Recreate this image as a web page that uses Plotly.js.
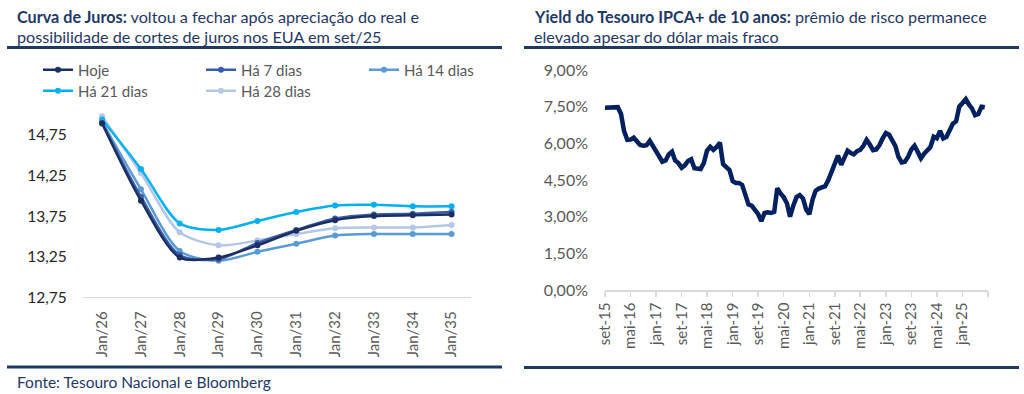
<!DOCTYPE html>
<html>
<head>
<meta charset="utf-8">
<script src="https://cdn.plot.ly/plotly-3.0.1.min.js"></script>
<style>
  html, body { margin: 0; padding: 0; background: #ffffff; }
  #chart { width: 1024px; height: 394px; }
</style>
</head>
<body>
<div id="chart"></div>
<script>
// ---- Left chart: Curva de Juros ----
const categories = ['Jan/26','Jan/27','Jan/28','Jan/29','Jan/30','Jan/31','Jan/32','Jan/33','Jan/34','Jan/35'];
const hoje  = [14.89, 13.94, 13.24, 13.24, 13.39, 13.57, 13.70, 13.75, 13.76, 13.77];
const ha7   = [14.90, 13.99, 13.27, 13.22, 13.42, 13.58, 13.72, 13.77, 13.78, 13.80];
const ha14  = [14.91, 14.08, 13.32, 13.20, 13.31, 13.41, 13.51, 13.53, 13.53, 13.53];
const ha21  = [14.94, 14.33, 13.66, 13.58, 13.69, 13.80, 13.88, 13.89, 13.87, 13.87];
const ha28  = [14.98, 14.28, 13.55, 13.39, 13.45, 13.53, 13.60, 13.61, 13.61, 13.64];
const seriesNames = ['Hoje', 'Há 7 dias', 'Há 14 dias', 'Há 21 dias', 'Há 28 dias'];
const leftTicks = [12.75, 13.25, 13.75, 14.25, 14.75];

// ---- Right chart: Yield do Tesouro IPCA+ de 10 anos (monthly, set-15 .. ago-25) ----
const yieldStart = [2015, 9];
const yieldValues = [
  7.46, 7.46, 7.45, 7.47, 7.48, 7.20, 6.50, 6.14, 6.15, 6.23,
  6.05, 5.93, 5.90, 5.92, 6.10, 5.90, 5.73, 5.45, 5.25, 5.30,
  5.55, 5.66, 5.30, 5.19, 5.00, 5.10, 5.28, 5.35, 4.98, 4.96,
  4.95, 5.20, 5.70, 5.86, 5.73, 5.85, 6.03, 5.15, 5.05, 4.91,
  4.45, 4.38, 4.38, 4.30, 3.90, 3.50, 3.45, 3.30, 3.10, 2.82,
  3.15, 3.18, 3.15, 3.20, 4.16, 3.95, 3.80, 3.55, 3.00, 3.45,
  3.80, 3.88, 3.75, 3.30, 3.10, 3.70, 4.05, 4.15, 4.18, 4.25,
  4.50, 4.85, 5.10, 5.50, 5.12, 5.40, 5.70, 5.60, 5.55, 5.68,
  5.73, 5.90, 6.14, 5.95, 5.72, 5.75, 5.93, 6.20, 6.42, 6.35,
  6.10, 5.90, 5.45, 5.22, 5.25, 5.45, 5.75, 5.90, 5.65, 5.39,
  5.58, 5.70, 5.85, 6.27, 6.21, 6.51, 6.20, 6.27, 6.50, 6.80,
  6.90, 7.50, 7.65, 7.81, 7.60, 7.43, 7.15, 7.20, 7.50, 7.48
];
const rightTickVals = ['2015-09-01','2016-05-01','2017-01-01','2017-09-01','2018-05-01','2019-01-01','2019-09-01','2020-05-01','2021-01-01','2021-09-01','2022-05-01','2023-01-01','2023-09-01','2024-05-01','2025-01-01','2025-09-01'];
const rightTickText = ['set-15','mai-16','jan-17','set-17','mai-18','jan-19','set-19','mai-20','jan-21','set-21','mai-22','jan-23','set-23','mai-24','jan-25',''];
const rightYTicks = [0, 1.5, 3, 4.5, 6, 7.5, 9];

function monthDates(start, n) {
  const out = [];
  for (let i = 0; i < n; i++) {
    const t = (start[0] * 12 + (start[1] - 1)) + i;
    const y = Math.floor(t / 12), m = t % 12 + 1;
    out.push(y + '-' + String(m).padStart(2, '0') + '-01');
  }
  return out;
}
const yieldDates = monthDates(yieldStart, yieldValues.length);

const W = 1024, H = 394;
const px = v => v / W;
const py = v => 1 - v / H;

const leftColors = ['#1B2F63', '#3A5DAA', '#5B9BD5', '#00B0F0', '#B4C7E7'];
const leftSeries = [hoje, ha7, ha14, ha21, ha28];
const legendOf = ['legend', 'legend', 'legend', 'legend2', 'legend2'];

const traces = leftSeries.map((vals, i) => ({
  type: 'scatter', mode: 'lines+markers',
  x: categories, y: vals, name: seriesNames[i],
  xaxis: 'x', yaxis: 'y', legend: legendOf[i],
  line: { color: leftColors[i], width: 2.5, shape: 'spline', smoothing: 0.8 },
  marker: { color: leftColors[i], size: 6 },
  hoverinfo: 'skip'
}));
// draw order: darkest on top; legend order kept by legendrank
traces.forEach((t, i) => { t.legendrank = i + 1; });
const drawOrder = [traces[4], traces[3], traces[2], traces[1], traces[0]];

const rightTrace = {
  type: 'scatter', mode: 'lines', x: yieldDates, y: yieldValues,
  xaxis: 'x2', yaxis: 'y2', showlegend: false,
  line: { color: '#002060', width: 4.5 }, hoverinfo: 'skip'
};

const navy = '#1F3864';
const fam = 'Lato, "Open Sans", sans-serif';
const titleFont = { family: fam, size: 16.2, color: navy };
const legendBase = {
  orientation: 'h', xanchor: 'left', yanchor: 'middle',
  entrywidth: 118, entrywidthmode: 'pixels', traceorder: 'normal',
  font: { family: fam, size: 15, color: '#595959' }, bgcolor: 'rgba(0,0,0,0)'
};

const layout = {
  width: W, height: H,
  margin: { l: 0, r: 0, t: 0, b: 0 },
  paper_bgcolor: '#ffffff', plot_bgcolor: '#ffffff',
  separators: ',.',
  font: { family: fam, color: '#595959' },
  showlegend: true,
  legend: Object.assign({}, legendBase, { x: px(38), y: py(70) }),
  legend2: Object.assign({}, legendBase, { x: px(38), y: py(91) }),
  xaxis: {
    domain: [px(82.7), px(471)], anchor: 'y', type: 'category',
    range: [-0.5, 9.5], showgrid: false, zeroline: false,
    showline: true, linecolor: '#D9D9D9', linewidth: 1,
    ticks: '', tickangle: -90, ticklabelstandoff: 7,
    tickfont: { family: fam, size: 15, color: '#595959' }
  },
  yaxis: {
    domain: [py(297.3), py(98.4)], anchor: 'x',
    range: [12.75, 15.2], tickvals: leftTicks, ticktext: leftTicks.map(v => v.toFixed(2).replace('.', ',')),
    showgrid: false, zeroline: false, showline: false, ticks: '',
    ticklabelstandoff: 15, tickfont: { family: fam, size: 15.5, color: '#262626' }
  },
  xaxis2: {
    domain: [px(605), px(988)], anchor: 'y2', type: 'date',
    range: ['2015-09-01', '2025-09-01'],
    tickvals: rightTickVals, ticktext: rightTickText,
    showgrid: false, zeroline: false, showline: true, linecolor: '#D9D9D9', linewidth: 1.5,
    ticks: 'outside', ticklen: 5, tickcolor: '#D9D9D9', tickwidth: 1.5,
    tickangle: -90, tickfont: { family: fam, size: 15, color: '#595959' }
  },
  yaxis2: {
    domain: [py(290), py(70)], anchor: 'x2',
    range: [0, 9], tickvals: rightYTicks, ticktext: rightYTicks.map(v => v.toFixed(2).replace('.', ',') + '%'),
    showgrid: false, zeroline: false, showline: false, ticks: '',
    ticklabelstandoff: 16, tickfont: { family: fam, size: 16, color: '#595959' }
  },
  shapes: [
    { type: 'line', xref: 'paper', yref: 'paper', x0: px(7), x1: px(502), y0: py(47.5), y1: py(47.5), line: { color: navy, width: 3 } },
    { type: 'line', xref: 'paper', yref: 'paper', x0: px(524), x1: px(1019), y0: py(47.5), y1: py(47.5), line: { color: navy, width: 3 } },
    { type: 'line', xref: 'paper', yref: 'paper', x0: px(7), x1: px(502), y0: py(367), y1: py(367), line: { color: navy, width: 3 } },
    { type: 'line', xref: 'paper', yref: 'paper', x0: px(524), x1: px(1019), y0: py(367.5), y1: py(367.5), line: { color: navy, width: 3 } }
  ],
  annotations: [
    { xref: 'paper', yref: 'paper', x: px(15), y: py(17), xanchor: 'left', yanchor: 'middle', showarrow: false,
      text: '<b>Curva de Juros:</b> voltou a fechar após apreciação do real e', font: titleFont },
    { xref: 'paper', yref: 'paper', x: px(15), y: py(36.5), xanchor: 'left', yanchor: 'middle', showarrow: false,
      text: 'possibilidade de cortes de juros nos EUA em set/25', font: titleFont },
    { xref: 'paper', yref: 'paper', x: px(532), y: py(17), xanchor: 'left', yanchor: 'middle', showarrow: false,
      text: '<b>Yield do Tesouro IPCA+ de 10 anos:</b> prêmio de risco permanece', font: titleFont },
    { xref: 'paper', yref: 'paper', x: px(532), y: py(36.5), xanchor: 'left', yanchor: 'middle', showarrow: false,
      text: 'elevado apesar do dólar mais fraco', font: titleFont },
    { xref: 'paper', yref: 'paper', x: px(15), y: py(382), xanchor: 'left', yanchor: 'middle', showarrow: false,
      text: 'Fonte: Tesouro Nacional e Bloomberg', font: { family: fam, size: 15.5, color: navy } }
  ]
};

Plotly.newPlot('chart', drawOrder.concat([rightTrace]), layout, { staticPlot: true, displayModeBar: false });
</script>
</body>
</html>
